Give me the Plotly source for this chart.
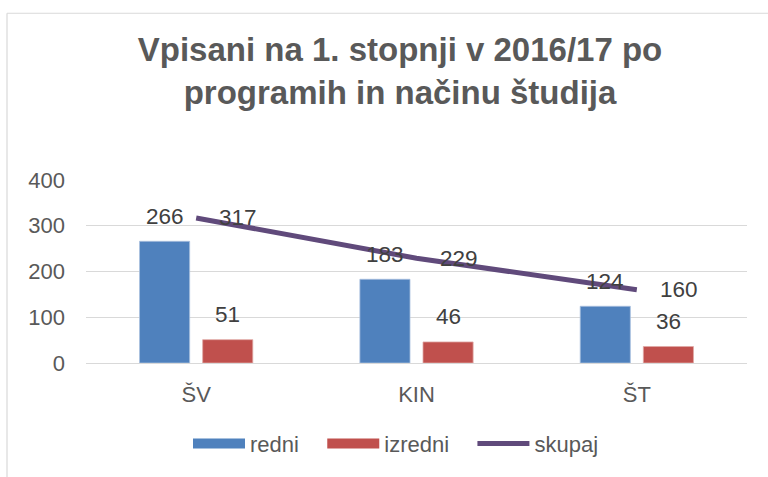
import plotly.graph_objects as go

categories = ["ŠV", "KIN", "ŠT"]
redni = [266, 183, 124]
izredni = [51, 46, 36]
skupaj = [317, 229, 160]
y_ticks = [0, 100, 200, 300, 400]

FONT = "Liberation Sans, Arial, sans-serif"
BLUE = "#4F81BD"
RED = "#C0504D"
PURPLE = "#604A7B"
GRID = "#D9D9D9"
TXT = "#595959"
LBL = "#404040"

W, H = 768, 477
L, R, T, B = 86, 21, 180, 111
pw, ph = W - L - R, H - T - B

fig = go.Figure()
fig.add_trace(go.Bar(name="redni", x=categories, y=redni, showlegend=False,
                     marker=dict(color=BLUE, line=dict(color="#A9C0DE", width=0.8))))
fig.add_trace(go.Bar(name="izredni", x=categories, y=izredni, showlegend=False,
                     marker=dict(color=RED, line=dict(color="#E0A8A6", width=0.8))))
fig.add_trace(go.Scatter(name="skupaj", x=categories, y=skupaj, mode="lines", showlegend=False,
                         line=dict(color=PURPLE, width=5)))
# legend entries (Excel-style wide swatches)
NB = "\u00a0"
fig.add_trace(go.Scatter(name="redni" + NB * 3, x=[None], y=[None], mode="lines", line=dict(color=BLUE, width=12)))
fig.add_trace(go.Scatter(name="izredni" + NB * 3, x=[None], y=[None], mode="lines", line=dict(color=RED, width=12)))
fig.add_trace(go.Scatter(name="skupaj", x=[None], y=[None], mode="lines", line=dict(color=PURPLE, width=5)))

ann = []
for c, v in zip(categories, redni):
    ann.append(dict(x=c, y=v, xref="x", yref="y", text=str(v), showarrow=False,
                    xshift=-31.5, yshift=25, font=dict(family=FONT, size=22.5, color=LBL)))
for c, v in zip(categories, izredni):
    ann.append(dict(x=c, y=v, xref="x", yref="y", text=str(v), showarrow=False,
                    xshift=31.5, yshift=25, font=dict(family=FONT, size=22.5, color=LBL)))
for c, v in zip(categories, skupaj):
    ann.append(dict(x=c, y=v, xref="x", yref="y", text=str(v), showarrow=False,
                    xanchor="left", xshift=21, yshift=0, font=dict(family=FONT, size=22.5, color=LBL)))

def px_x(p):
    return (p - L) / pw

def px_y(p):
    return (H - B - p) / ph

shapes = [
    dict(type="line", xref="paper", yref="paper", x0=px_x(7), x1=px_x(800), y0=px_y(10.5), y1=px_y(10.5),
         line=dict(color=GRID, width=1.2)),
    dict(type="line", xref="paper", yref="paper", x0=px_x(7), x1=px_x(7), y0=px_y(10.5), y1=px_y(500),
         line=dict(color=GRID, width=1.2)),
]

fig.update_layout(
    width=W, height=H,
    margin=dict(l=L, r=R, t=T, b=B),
    paper_bgcolor="white", plot_bgcolor="white",
    font=dict(family=FONT, color=TXT, size=22),
    title=dict(text="<b>Vpisani na 1. stopnji v 2016/17 po<br>programih in načinu študija</b>",
               x=400 / W, xanchor="center", y=1 - 61 / H, yanchor="middle", yref="container",
               font=dict(family=FONT, size=33, color=TXT)),
    barmode="group", bargap=0.427, bargroupgap=0.206,
    xaxis=dict(showgrid=False, showline=False, ticks="", tickfont=dict(size=22, color=TXT), ticklabelstandoff=16),
    yaxis=dict(range=[0, 400], tickvals=y_ticks, showgrid=True, gridcolor=GRID, gridwidth=1.2,
               zeroline=True, zerolinecolor=GRID, zerolinewidth=1.2, showline=False, ticks="",
               tickfont=dict(size=22, color=TXT), ticklabelstandoff=20),
    legend=dict(orientation="h", x=px_x(396), xanchor="center", y=px_y(448), yanchor="middle",
                font=dict(size=22, color=TXT), itemwidth=52, traceorder="normal", tracegroupgap=0),
    annotations=ann,
    shapes=shapes,
    showlegend=True,
)

fig.write_html("out.html", config={"displayModeBar": False},
               post_script="document.body.style.margin='0';document.body.style.overflow='hidden';")
